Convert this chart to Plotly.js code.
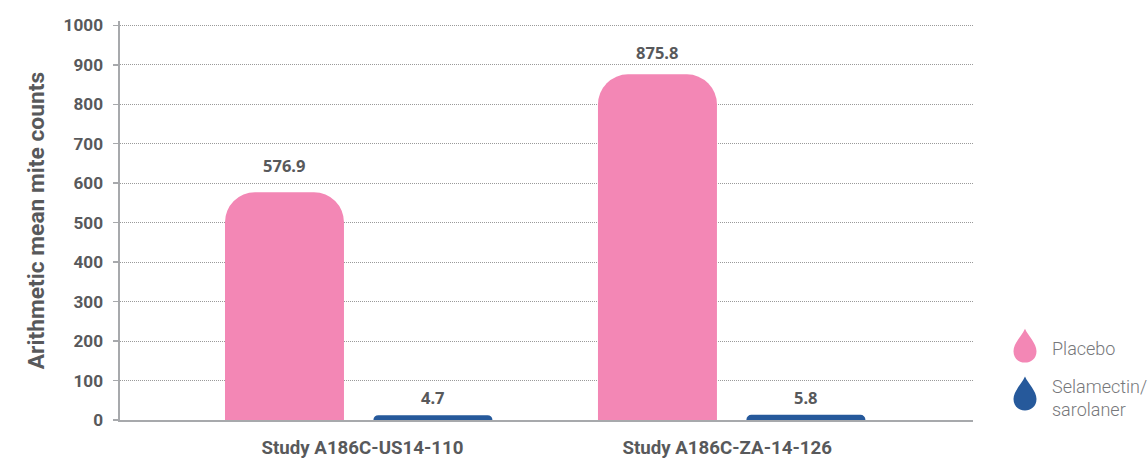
<!DOCTYPE html>
<html><head><meta charset="utf-8">
<script src="https://cdn.plot.ly/plotly-3.0.1.min.js"></script>
<style>html,body{margin:0;padding:0;background:#fff}#c{width:1148px;height:458px}</style></head>
<body><div id="c"></div>
<script>
const studies = ["Study A186C-US14-110", "Study A186C-ZA-14-126"];
const placebo = [576.9, 875.8];
const combo = [4.7, 5.8];
const seriesNames = ["Placebo", "Selamectin/<br>sarolaner"];
const yTicks = [0,100,200,300,400,500,600,700,800,900,1000];
const pink = "#f387b5", blue = "#26599b", ink = "#58595b";
const W = 1148, H = 458, L = 120, R = 175, T = 20.5, B = 37.5;
const font = 'Roboto, "Noto Sans", sans-serif';
const labelFont = '"Noto Sans", "Open Sans", sans-serif';

const px = x => (x - L) / (W - L - R);
const py = y => 1 - (y - T) / (H - T - B);
function drop(cx, top, bottom, color) {
  const r = 11.5, cy = bottom - r, P = (x, y) => px(x) + "," + py(y);
  return {type: "path", xref: "paper", yref: "paper", fillcolor: color, line: {width: 0},
    path: "M" + P(cx, top) +
      " C" + P(cx + 3, top + 7) + " " + P(cx + r, cy - 8) + " " + P(cx + r, cy) +
      " C" + P(cx + r, cy + 15.3) + " " + P(cx - r, cy + 15.3) + " " + P(cx - r, cy) +
      " C" + P(cx - r, cy - 8) + " " + P(cx - 3, top + 7) + " " + P(cx, top) + " Z"};
}
const offs = 0.199;
const labelShift = {p: [13, 8], c: [7, 7]};
const ann = [];
studies.forEach((s, i) => {
  ann.push({x: i - offs, y: placebo[i], text: placebo[i].toFixed(1), yshift: labelShift.p[i]});
  ann.push({x: i + offs, y: combo[i], text: combo[i].toFixed(1), yshift: labelShift.c[i]});
});
const annotations = ann.map(a => Object.assign(a, {xref: "x", yref: "y", showarrow: false, yanchor: "bottom",
  font: {family: labelFont, size: 16.5, color: ink, weight: 700}}));
[[seriesNames[0], 349],[seriesNames[1], 398]].forEach(([t, y]) => annotations.push({
  xref: "paper", yref: "paper", x: px(1050), y: py(y), xanchor: "left", yanchor: "middle", align: "left",
  showarrow: false, text: t, font: {family: "Roboto, sans-serif", size: 18, color: "#77787b", weight: 300}}));

Plotly.newPlot("c", [
  {type: "bar", name: "Placebo", x: [0, 1], y: placebo, marker: {color: pink, cornerradius: 30}, width: 0.319},
  {type: "bar", name: "Selamectin/sarolaner", x: [0, 1], y: combo,
    marker: {color: blue, cornerradius: 2, line: {color: blue, width: 6}}, width: 0.303}
], {
  width: W, height: H, margin: {l: L, r: R, t: T, b: B}, showlegend: false,
  paper_bgcolor: "#fff", plot_bgcolor: "#fff",
  barmode: "group", bargap: 0.204, bargroupgap: 0.198,
  hovermode: false,
  xaxis: {range: [-0.64, 1.647], tickmode: "array", tickvals: [0.01, 0.988], ticktext: studies, ticks: "",
    showgrid: false, zeroline: false, showline: true, linecolor: "#a7a9ac", linewidth: 2,
    tickfont: {family: font, size: 18.7, color: ink, weight: 700}, ticklabelstandoff: 10},
  yaxis: {range: [0, 1011], tickmode: "array", tickvals: yTicks, ticks: "outside", ticklen: 5, tickwidth: 1.5, tickcolor: "#a7a9ac",
    showline: true, linecolor: "#a7a9ac", linewidth: 2.5, zeroline: false,
    showgrid: true, gridcolor: "#9a9a9a", gridwidth: 1, griddash: "1px,1px",
    tickfont: {family: font, size: 17.2, color: ink, weight: 700}, ticklabelstandoff: 6,
    title: {text: "Arithmetic mean mite counts", standoff: 13, font: {family: font, size: 22.8, color: ink, weight: 700}}},
  annotations,
  shapes: [drop(1025, 329, 363, pink), drop(1025, 377, 411, blue)]
}, {displayModeBar: false, staticPlot: true});
</script></body></html>
